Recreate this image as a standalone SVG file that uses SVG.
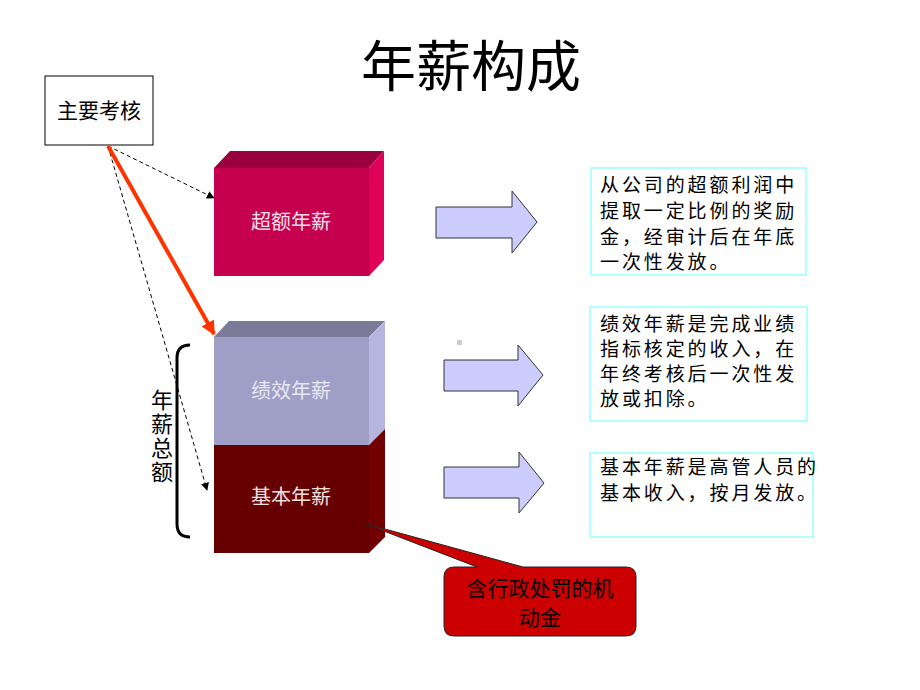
<svg xmlns="http://www.w3.org/2000/svg" width="920" height="690" viewBox="0 0 920 690">
<style>
text{font-family:"Noto Sans CJK SC","Noto Sans",sans-serif;}
.t{font-size:19px;letter-spacing:2.9px;fill:#000;}
.lbl{font-size:20px;text-anchor:middle;}
.ba{fill:#CCCCFF;stroke:#333;stroke-width:1;}
.tb{fill:#fff;stroke:#99FFFF;stroke-width:1.5;}
</style>
<defs>
<marker id="ah" viewBox="0 0 10 10" refX="9" refY="5" markerWidth="8" markerHeight="8" markerUnits="userSpaceOnUse" orient="auto"><path d="M0,0 L10,5 L0,10 Z" fill="#000"/></marker>
<marker id="ahr" viewBox="0 0 10 10" refX="9" refY="5" markerWidth="14" markerHeight="14" markerUnits="userSpaceOnUse" orient="auto"><path d="M0,0 L10,5 L0,10 Z" fill="#FF3300"/></marker>
</defs>
<rect width="920" height="690" fill="#fff"/>
<text x="471" y="86" font-size="55" text-anchor="middle">年薪构成</text>

<g id="kaohe">
<rect x="45" y="76" width="108" height="69" fill="#fff" stroke="#000" stroke-width="1"/>
<text x="99" y="118" font-size="21" text-anchor="middle">主要考核</text>
</g>

<g id="chaoe">
<polygon points="214,168 230,151 384,151 369,168" fill="#99003D"/>
<polygon points="369,168 384,151 384,260 369,276" fill="#E0005A"/>
<rect x="214" y="168" width="155" height="108" fill="#C4004F"/>
<text x="291" y="229" class="lbl" fill="#F4E0EA">超额年薪</text>
</g>

<g id="jixiao">
<polygon points="214,337 229,321 385,321 369,337" fill="#7B7B99"/>
<polygon points="369,337 385,321 385,429 369,445" fill="#B5B5E0"/>
<rect x="214" y="337" width="155" height="108" fill="#9E9EC6"/>
<text x="291" y="398" class="lbl" fill="#E8E8F2">绩效年薪</text>
</g>

<g id="jiben">
<polygon points="369,445 385,429 385,537 369,553" fill="#730000"/>
<rect x="214" y="445" width="155" height="108" fill="#660000"/>
<text x="291" y="504" class="lbl" fill="#F0E0E0">基本年薪</text>
</g>

<g id="zonge">
<path d="M190,345 Q177,345 177,358 L177,524 Q177,537 190,537" fill="none" stroke="#000" stroke-width="3"/>
<text x="162" y="389" font-size="22" writing-mode="vertical-rl" letter-spacing="2">年薪总额</text>
</g>

<g id="connectors">
<line x1="108" y1="146" x2="214" y2="198" stroke="#000" stroke-width="1" stroke-dasharray="4,3" marker-end="url(#ah)"/>
<line x1="108" y1="146" x2="207" y2="490" stroke="#000" stroke-width="1" stroke-dasharray="4,3" marker-end="url(#ah)"/>
<line x1="108" y1="146" x2="214" y2="334" stroke="#FF3300" stroke-width="4" marker-end="url(#ahr)"/>
<polygon class="ba" points="436,207 512,207 512,191 537,222 512,253 512,238 436,238"/>
<polygon class="ba" points="444,360 518,360 518,345 543,375 518,406 518,391 444,391"/>
<polygon class="ba" points="444,467 519,467 519,452 544,483 519,513 519,498 444,498"/>
</g>
<rect x="457" y="340" width="5" height="5" fill="#CCCCCC"/>

<g id="desc1">
<rect class="tb" x="591" y="168" width="215" height="107"/>
<text class="t"><tspan x="600" y="192">从公司的超额利润中</tspan><tspan x="600" y="218">提取一定比例的奖励</tspan><tspan x="600" y="244">金，经审计后在年底</tspan><tspan x="600" y="269">一次性发放。</tspan></text>
</g>
<g id="desc2">
<rect class="tb" x="590" y="307" width="217" height="114"/>
<text class="t"><tspan x="600" y="331">绩效年薪是完成业绩</tspan><tspan x="600" y="356">指标核定的收入，在</tspan><tspan x="600" y="381">年终考核后一次性发</tspan><tspan x="600" y="406">放或扣除。</tspan></text>
</g>
<g id="desc3">
<rect class="tb" x="590" y="453" width="223" height="84"/>
<text class="t" letter-spacing="2"><tspan x="600" y="474">基本年薪是高管人员的</tspan><tspan x="600" y="500">基本收入，按月发放。</tspan></text>
</g>

<g id="callout">
<path d="M454,567 L477,567 L363,523 L523,567 L626,567 Q636,567 636,577 L636,626 Q636,636 626,636 L454,636 Q444,636 444,626 L444,577 Q444,567 454,567 Z" fill="#CC0000" stroke="#222" stroke-width="1"/>
<text font-size="21" text-anchor="middle" fill="#000"><tspan x="540" y="596">含行政处罚的机</tspan><tspan x="540" y="625">动金</tspan></text>
</g>
</svg>
